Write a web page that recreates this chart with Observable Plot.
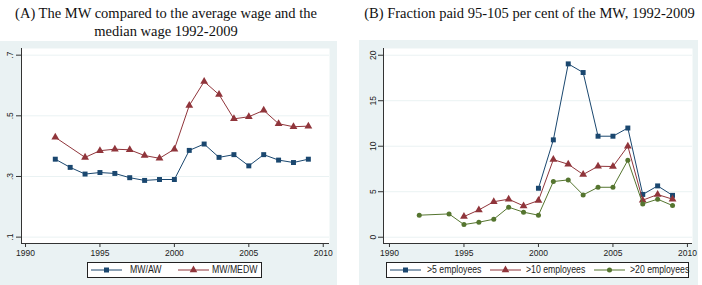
<!DOCTYPE html>
<html><head><meta charset="utf-8">
<script src="https://cdn.jsdelivr.net/npm/d3@7"></script>
<script src="https://cdn.jsdelivr.net/npm/@observablehq/plot@0.6"></script>
<style>
body{margin:0;background:#fff;}
#root{position:relative;width:702px;height:285px;overflow:hidden;font-family:"Liberation Sans",Arial,sans-serif;}
.bg{position:absolute;background:#eaf2f3;}
.title{position:absolute;font-family:"Liberation Serif","Times New Roman",serif;font-size:14.5px;line-height:18px;text-align:center;color:#111;white-space:nowrap;}
.legend{position:absolute;background:#fff;border:1px solid #222;box-sizing:border-box;}
.lt{position:absolute;font-size:10px;color:#222;line-height:14px;top:0;white-space:nowrap;transform:scaleX(0.87);transform-origin:0 50%;}
.sw{position:absolute;top:2px;}
.pl{position:absolute;}
</style></head><body><div id="root"></div>
<script>
// ---- data ----
const years = [1992,1993,1994,1995,1996,1997,1998,1999,2000,2001,2002,2003,2004,2005,2006,2007,2008,2009];
const xTicks = [1990,1995,2000,2005,2010];

const mwAW   = [0.357,0.330,0.308,0.313,0.310,0.296,0.287,0.290,0.290,0.386,0.407,0.363,0.372,0.335,0.372,0.354,0.346,0.357];
const mwMEDW = [0.429,null,0.363,0.385,0.390,0.388,0.369,0.360,0.390,0.534,0.613,0.570,0.490,0.497,0.518,0.474,0.464,0.466];
const yTicksA = [0.1,0.3,0.5,0.7];
const yLabelsA = [".1",".3",".5",".7"];

const emp5  = [null,null,null,null,null,null,null,null,5.38,10.7,19.05,18.1,11.1,11.1,12.0,4.7,5.64,4.6];
const emp10 = [null,null,null,2.27,3.0,3.9,4.18,3.44,4.03,8.53,8.02,6.89,7.8,7.77,10.0,4.07,4.69,4.18];
const emp20 = [2.42,null,2.56,1.39,1.65,1.98,3.3,2.75,2.42,6.12,6.3,4.65,5.49,5.49,8.46,3.66,4.18,3.48];
const yTicksB = [0,5,10,15,20];
const yLabelsB = ["0","5","10","15","20"];

const NAVY = "#1a476f", MAROON = "#90353b", GREEN = "#55752f";

const root = document.getElementById("root");
function div(cls, style, html){ const d=document.createElement("div"); d.className=cls; Object.assign(d.style, style); if(html!=null) d.innerHTML=html; root.appendChild(d); return d; }

function panel(o){
  const rows = o.series.flatMap(s => years.map((yr,i)=>({year:yr, value:s.values[i], name:s.name})).filter(d=>d.value!=null));
  const marks = [
    Plot.frame({fill:"#fff", stroke:null}),
    Plot.gridY(o.yTicks, {stroke:"#eaf2f3", strokeOpacity:1, strokeWidth:1}),
    Plot.axisX(xTicks, {tickSize:4, tickPadding:2, fontSize:8.5, tickFormat:d=>String(d), stroke:"#333", fill:"#222", label:null}),
    Plot.axisY(o.yTicks, {tickSize:5, tickFormat:()=>"", stroke:"#333", label:null}),
    Plot.text(o.yTicks, {y:d=>d, text:(d,i)=>o.yLabels[i], frameAnchor:"left", rotate:-90, dx:o.labelDx, lineAnchor:"middle", textAnchor:"middle", fontSize:8.5, fill:"#222"}),
    Plot.ruleX([o.xDom[0]], {stroke:"#333"}),
    Plot.ruleY([o.yDom[0]], {stroke:"#333"})
  ];
  for (const s of o.series){
    const d = rows.filter(r=>r.name===s.name);
    marks.push(Plot.line(d, {x:"year", y:"value", stroke:s.color, strokeWidth:1}));
    marks.push(Plot.dot(d, {x:"year", y:"value", symbol:s.symbol, fill:s.color, r:s.r, stroke:null}));
  }
  const svg = Plot.plot({
    width:o.width, height:o.height,
    marginLeft:o.mL, marginRight:o.mR, marginTop:o.mT, marginBottom:o.mB,
    x:{domain:o.xDom, label:null}, y:{domain:o.yDom, label:null},
    style:{background:"transparent", overflow:"visible", fontFamily:"Liberation Sans, Arial, sans-serif"},
    marks
  });
  const wrap = div("pl", {left:o.left+"px", top:o.top+"px"});
  wrap.appendChild(svg);
}

function swatch(parent, x, color, symbol){
  const ns="http://www.w3.org/2000/svg";
  const svg=document.createElementNS(ns,"svg");
  svg.setAttribute("width",31); svg.setAttribute("height",10);
  svg.setAttribute("class","sw"); svg.style.left=x+"px";
  const l=document.createElementNS(ns,"line");
  l.setAttribute("x1",0); l.setAttribute("x2",31); l.setAttribute("y1",5); l.setAttribute("y2",5);
  l.setAttribute("stroke",color); l.setAttribute("stroke-width",1);
  svg.appendChild(l);
  const p=document.createElementNS(ns,"path");
  const sym = symbol==="square"?d3.symbolSquare:symbol==="triangle"?d3.symbolTriangle:d3.symbolCircle;
  p.setAttribute("d", d3.symbol(sym, symbol==="circle"?20:25)());
  p.setAttribute("transform","translate(15.5,5)");
  p.setAttribute("fill",color);
  svg.appendChild(p);
  parent.appendChild(svg);
}

// ---- Panel A ----
div("bg", {left:"0px", top:"41px", width:"337px", height:"244px"});
div("title", {left:"0px", top:"4px", width:"332px"}, "(A) The MW compared to the average wage and the<br>median wage 1992-2009");
panel({left:0, top:40, width:337, height:222, mL:21, mR:8, mT:8, mB:19,
  xDom:[1989.73, 2010.42], yDom:[0.079, 0.722], yTicks:yTicksA, yLabels:yLabelsA, labelDx:-11,
  series:[{name:"MW/AW", values:mwAW, color:NAVY, symbol:"square", r:2.8},
          {name:"MW/MEDW", values:mwMEDW, color:MAROON, symbol:"triangle", r:2.9}]});
const lgA = div("legend", {left:"87px", top:"262px", width:"175px", height:"16px"});
swatch(lgA, 3, NAVY, "square");
const ta1 = document.createElement("div"); ta1.className="lt"; ta1.style.left="42px"; ta1.textContent="MW/AW"; lgA.appendChild(ta1);
swatch(lgA, 90, MAROON, "triangle");
const ta2 = document.createElement("div"); ta2.className="lt"; ta2.style.left="124px"; ta2.textContent="MW/MEDW"; lgA.appendChild(ta2);

// ---- Panel B ----
div("bg", {left:"359px", top:"40px", width:"339px", height:"245px"});
div("title", {left:"355px", top:"4px", width:"349px"}, "(B) Fraction paid 95-105 per cent of the MW, 1992-2009");
panel({left:359, top:40, width:339, height:222, mL:24, mR:6, mT:8, mB:19,
  xDom:[1989.6, 2010.34], yDom:[-0.69, 20.74], yTicks:yTicksB, yLabels:yLabelsB, labelDx:-10,
  series:[{name:">5 employees", values:emp5, color:NAVY, symbol:"square", r:2.8},
          {name:">10 employees", values:emp10, color:MAROON, symbol:"triangle", r:2.9},
          {name:">20 employees", values:emp20, color:GREEN, symbol:"circle", r:2.5}]});
const lgB = div("legend", {left:"386px", top:"262px", width:"303px", height:"16px"});
const labsB = [">5 employees",">10 employees",">20 employees"];
const colsB = [NAVY, MAROON, GREEN], symsB = ["square","triangle","circle"];
const swX = [3,103,207], txX = [40,139,243];
labsB.forEach((t,i)=>{
  swatch(lgB, swX[i], colsB[i], symsB[i]);
  const e=document.createElement("div"); e.className="lt"; e.style.left=txX[i]+"px"; e.textContent=t; lgB.appendChild(e);
});
</script></body></html>
